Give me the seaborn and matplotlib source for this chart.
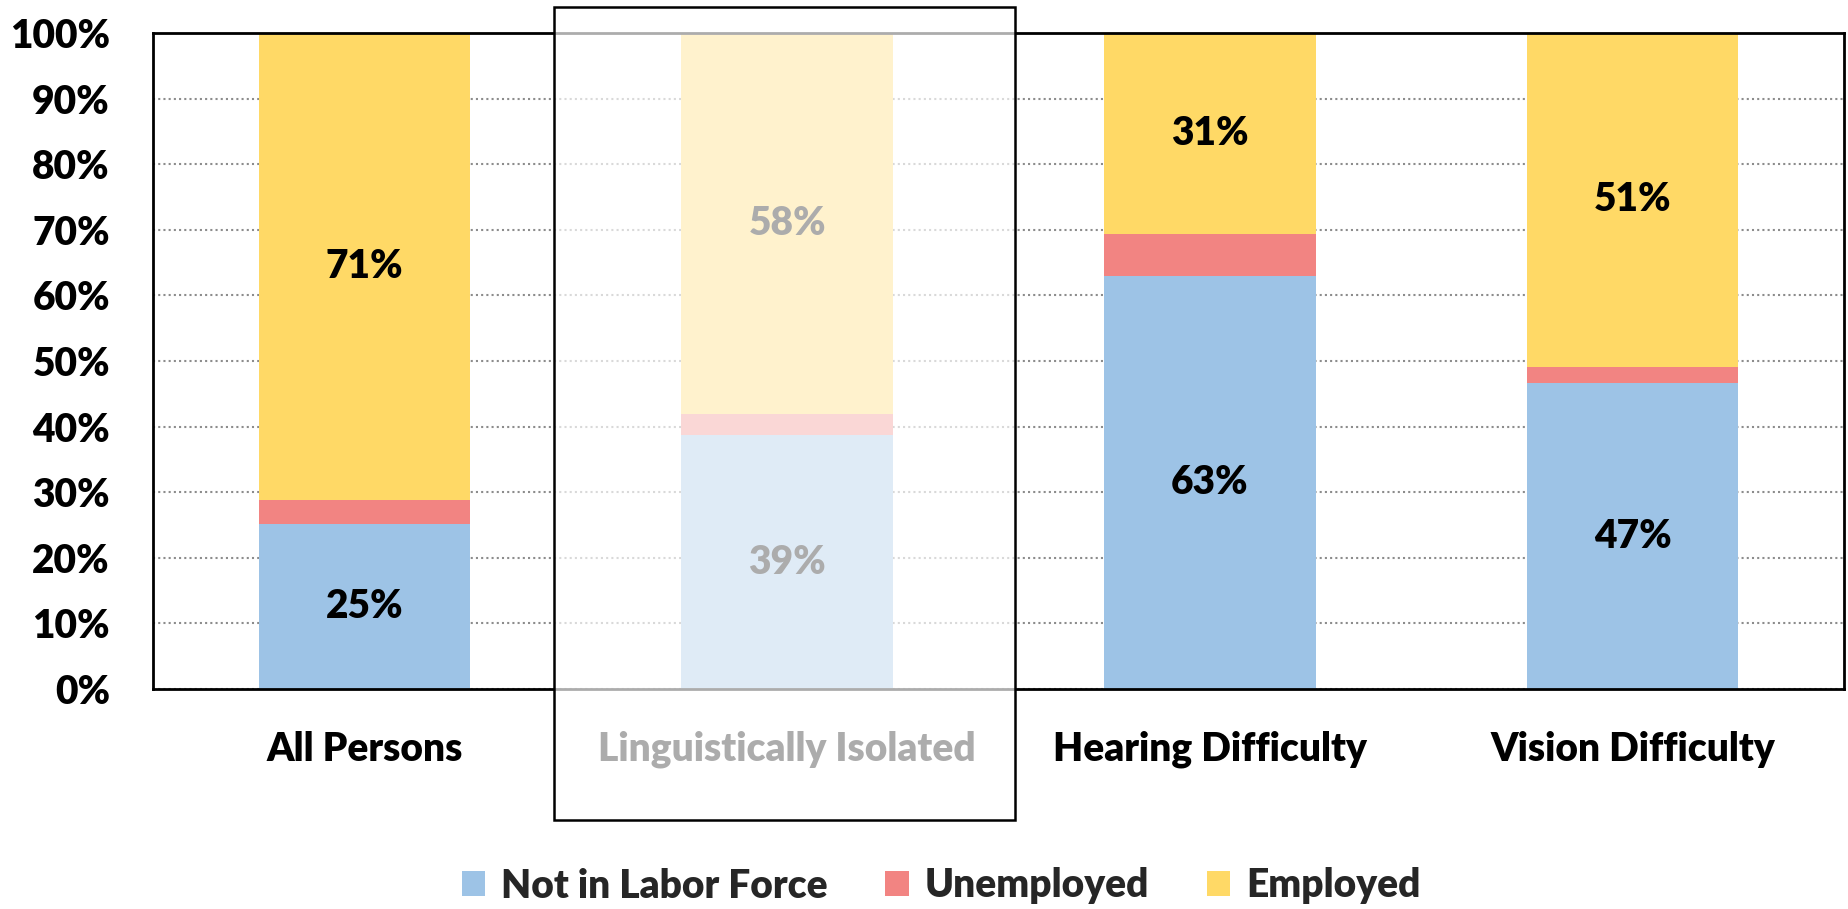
import matplotlib
matplotlib.use("Agg")
import matplotlib.pyplot as plt
import seaborn as sns
import pandas as pd
from matplotlib.patches import Rectangle, Patch

# datos (%)
grupos = ['All Persons', 'Linguistically Isolated', 'Hearing Difficulty', 'Vision Difficulty']
fuera_fuerza = [25.2, 38.7, 62.9, 46.6]
desempleados = [3.6, 3.2, 6.5, 2.5]
empleados = [71.2, 58.1, 30.6, 50.9]
series = ['Not in Labor Force', 'Unemployed', 'Employed']
colores = ['#9DC3E6', '#F28482', '#FFD966']
yticks = list(range(0, 101, 10))

sns.set_theme(style='white')
plt.rcParams['font.family'] = ['Lato', 'DejaVu Sans']
peso = 'heavy'

df = pd.DataFrame({'grupo': grupos, 'nilf': fuera_fuerza,
                   'unemp': desempleados, 'emp': empleados})

fig = plt.figure(figsize=(18.48, 9.09), dpi=100)
ax = fig.add_axes([153/1848, 1 - 689/909, (1844-153)/1848, (689-33)/909])

# barras apiladas
base = [0]*len(grupos)
contenedores = []
for col, color in zip(['nilf', 'unemp', 'emp'], colores):
    sns.barplot(data=df, x='grupo', y=col, color=color, width=0.5,
                bottom=base, ax=ax, saturation=1, zorder=2, linewidth=0)
    contenedores.append(ax.containers[-1])
    base = [b + v for b, v in zip(base, df[col])]

# etiquetas de datos (sin desempleados)
ax.bar_label(contenedores[0], labels=[f'{round(v)}%' for v in fuera_fuerza],
             label_type='center', fontsize=28, fontweight=peso, color='black')
ax.bar_label(contenedores[2], labels=[f'{round(v)}%' for v in empleados],
             label_type='center', fontsize=28, fontweight=peso, color='black')

ax.set_ylim(0, 100)
ax.set_xlim(-0.5, 3.5)
ax.set_yticks(yticks)
ax.set_yticklabels([f'{t}%' for t in yticks])
ax.set_xlabel('')
ax.set_ylabel('')
ax.tick_params(axis='both', length=0, labelsize=28)
ax.tick_params(axis='y', pad=31)
ax.tick_params(axis='x', pad=30)
for lab in ax.get_xticklabels() + ax.get_yticklabels():
    lab.set_fontweight(peso)
    lab.set_color('black')

ax.yaxis.grid(True, linestyle=(0, (1, 1.5)), color='#8c8c8c', linewidth=1.5, zorder=0)
ax.set_axisbelow(True)
for s in ax.spines.values():
    s.set_color('black')
    s.set_linewidth(2)

# leyenda
handles = [Patch(facecolor=c, edgecolor='none') for c in colores]
fig.legend(handles, series, loc='center', bbox_to_anchor=(941/1848, 1 - 886/909),
           ncol=3, frameon=False, handlelength=0.6, handleheight=0.6,
           handletextpad=0.4, columnspacing=1.5, prop={'weight': peso, 'size': 28})

# recuadro atenuado sobre "Linguistically Isolated"
x0, y0 = 554/1848, 1 - 820/909
w, h = (1015-554)/1848, (820-7)/909
fig.add_artist(Rectangle((x0, y0), w, h, transform=fig.transFigure,
                         facecolor='white', alpha=0.68, edgecolor='none', zorder=10))
fig.add_artist(Rectangle((x0, y0), w, h, transform=fig.transFigure,
                         facecolor='none', edgecolor='black', linewidth=1.8, zorder=11))

fig.savefig('out.png', dpi=100)
